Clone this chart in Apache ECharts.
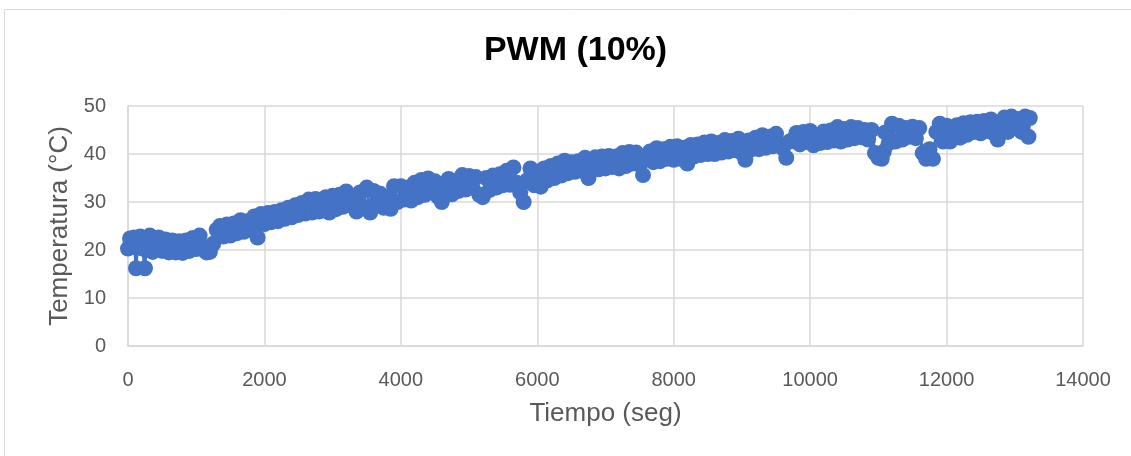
<!DOCTYPE html>
<html>
<head>
<meta charset="utf-8">
<script src="https://cdn.jsdelivr.net/npm/echarts@6/dist/echarts.min.js"></script>
<style>html,body{margin:0;padding:0;background:#fff}#c{width:1131px;height:456px}</style>
</head>
<body>
<div id="c"></div>
<script>
var chartTitle = 'PWM (10%)';
var xName = 'Tiempo (seg)';
var yName = 'Temperatura (°C)';
var xTicks = [0, 2000, 4000, 6000, 8000, 10000, 12000, 14000];
var yTicks = [0, 10, 20, 30, 40, 50];
var times = [0,30,60,90,117,140,180,210,249,270,320,360,400,450,500,550,600,650,700,750,800,850,900,950,1000,1050,1100,1150,1200,1250,1300,1350,1400,1450,1500,1550,1600,1650,1700,1750,1800,1850,1900,1920,1950,2000,2050,2100,2150,2200,2250,2300,2350,2400,2450,2500,2550,2600,2650,2700,2750,2800,2850,2900,2950,3000,3050,3100,3150,3200,3250,3300,3350,3400,3450,3500,3550,3600,3650,3700,3750,3800,3850,3900,3950,4000,4050,4100,4150,4200,4250,4300,4350,4400,4450,4500,4550,4600,4650,4700,4750,4800,4850,4900,4950,5000,5050,5100,5150,5200,5250,5300,5350,5400,5450,5500,5550,5600,5650,5700,5750,5800,5850,5900,5950,6000,6050,6100,6150,6200,6250,6300,6350,6400,6450,6500,6550,6600,6650,6700,6750,6800,6850,6900,6950,7000,7050,7100,7150,7200,7250,7300,7350,7400,7450,7500,7550,7600,7650,7700,7750,7800,7850,7900,7950,8000,8050,8100,8150,8200,8250,8300,8350,8400,8450,8500,8550,8600,8650,8700,8750,8800,8850,8900,8950,9000,9050,9100,9150,9200,9250,9300,9350,9400,9450,9500,9550,9600,9650,9700,9750,9800,9850,9900,9950,10000,10050,10100,10150,10200,10250,10300,10350,10400,10450,10500,10550,10600,10650,10700,10750,10800,10850,10900,10950,11000,11050,11080,11100,11150,11200,11250,11300,11350,11400,11450,11500,11550,11600,11650,11700,11750,11800,11850,11900,11950,12000,12050,12100,12150,12200,12250,12300,12350,12400,12450,12500,12550,12600,12650,12700,12750,12800,12850,12900,12950,13000,13050,13100,13150,13200,13220];
var temps = [20.3,22.4,20.6,22.6,16.2,21.0,22.8,20.3,16.2,22.2,23.0,19.6,22.0,22.6,19.8,22.2,19.5,22.0,19.5,21.8,19.4,22.0,19.8,22.5,20.2,23.0,20.5,19.5,19.6,21.3,24.2,25.0,22.8,25.3,23.0,25.5,23.5,26.2,23.8,26.0,24.6,27.0,22.6,25.6,27.5,25.4,27.7,25.8,27.9,26.0,28.3,26.5,28.8,26.8,29.3,27.3,29.8,27.6,30.5,27.8,30.6,28.0,30.0,31.0,27.8,31.3,28.5,31.5,29.0,32.2,29.3,31.0,28.0,32.0,29.0,33.0,27.8,32.3,30.0,31.7,28.8,31.0,28.6,33.3,30.0,33.3,30.5,33.0,30.3,34.0,31.0,34.6,31.5,34.9,32.0,34.3,31.0,30.0,33.5,34.8,31.6,34.3,32.3,35.6,32.6,35.4,33.0,35.2,31.5,31.0,35.0,32.5,35.5,33.0,35.8,33.5,36.5,33.6,37.2,34.0,32.0,30.0,34.5,37.0,33.5,36.3,33.2,37.0,34.5,37.5,35.0,38.0,35.5,38.6,36.0,38.3,36.3,38.5,36.5,39.2,35.0,37.0,39.3,36.8,39.5,37.0,39.6,37.3,39.5,37.0,40.2,37.5,40.4,38.0,40.3,37.8,35.6,39.0,40.5,38.3,41.2,38.5,41.0,39.0,41.5,38.8,41.6,39.0,41.3,38.0,41.9,39.5,42.0,39.8,42.4,40.0,42.6,40.0,42.3,40.3,42.9,40.5,42.7,40.8,43.2,40.2,38.8,42.8,41.0,43.4,41.0,43.9,41.3,43.6,41.6,44.2,41.8,41.2,39.2,42.6,43.0,44.4,42.0,44.6,42.5,44.8,41.8,43.9,42.3,44.7,42.5,44.9,42.8,45.6,42.6,45.2,43.0,45.6,43.3,45.4,43.5,45.0,43.0,45.0,40.2,39.2,39.0,40.5,44.5,42.2,46.3,42.6,45.9,43.0,45.4,43.6,45.7,43.3,45.4,40.2,39.0,41.0,39.0,44.6,46.3,42.6,45.9,42.6,44.5,46.0,43.4,46.4,44.0,46.6,44.6,46.7,44.3,46.9,44.8,47.2,44.2,43.0,46.2,47.6,44.6,47.8,45.5,47.3,44.6,47.8,43.6,47.5];

var pts = times.map(function (t, i) { return [t, temps[i]]; });
var chart = echarts.init(document.getElementById('c'));
var font = '"Liberation Sans", Arial, sans-serif';
chart.setOption({
  animation: false,
  backgroundColor: '#ffffff',
  textStyle: { fontFamily: font },
  graphic: [{
    type: 'rect', silent: true, z: -1,
    shape: { x: 4.5, y: 9.5, width: 1140, height: 470 },
    style: { fill: null, stroke: '#d9d9d9', lineWidth: 1 }
  }, {
    type: 'text', silent: true,
    x: 575.5, y: 51,
    style: {
      text: chartTitle, textAlign: 'center', textVerticalAlign: 'middle',
      font: 'bold 34px "Liberation Sans", Arial, sans-serif', fill: '#000000'
    }
  }],
  grid: { left: 128, right: 48, top: 106, bottom: 110, containLabel: false },
  xAxis: {
    type: 'value', min: xTicks[0], max: xTicks[xTicks.length - 1], interval: 2000,
    name: xName, nameLocation: 'middle', nameGap: 55,
    nameTextStyle: { fontSize: 26, color: '#595959', fontFamily: font },
    axisLine: { lineStyle: { color: '#d9d9d9', width: 1.5 } },
    axisTick: { show: false },
    axisLabel: { fontSize: 20, color: '#595959', margin: 24, fontFamily: font,
      formatter: function (v) { return String(v); } },
    splitLine: { show: true, lineStyle: { color: '#d9d9d9', width: 1.5 } }
  },
  yAxis: {
    type: 'value', min: yTicks[0], max: yTicks[yTicks.length - 1], interval: 10,
    name: yName, nameLocation: 'middle', nameGap: 53, nameRotate: 90,
    nameTextStyle: { fontSize: 26, color: '#595959', fontFamily: font },
    axisLine: { show: true, lineStyle: { color: '#d9d9d9', width: 1.5 } },
    axisTick: { show: false },
    axisLabel: { fontSize: 20, color: '#595959', margin: 22, fontFamily: font },
    splitLine: { show: true, lineStyle: { color: '#d9d9d9', width: 1.5 } }
  },
  series: [{
    type: 'line', data: pts,
    symbol: 'circle', symbolSize: 16, showAllSymbol: true,
    itemStyle: { color: '#4472C4' },
    lineStyle: { color: '#4472C4', width: 3 },
    emphasis: { disabled: true }
  }]
});
</script>
</body>
</html>
